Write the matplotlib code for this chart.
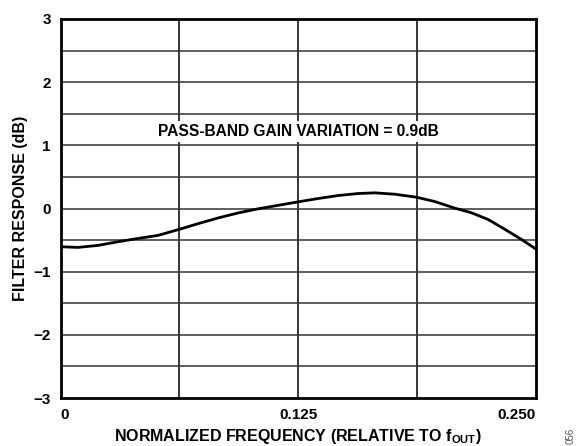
import matplotlib
matplotlib.use('Agg')
import matplotlib.pyplot as plt
import numpy as np

plt.rcParams['font.family'] = ['Liberation Sans', 'DejaVu Sans']
plt.rcParams['font.weight'] = 'bold'
plt.rcParams['mathtext.fontset'] = 'custom'
plt.rcParams['mathtext.rm'] = 'Liberation Sans'
plt.rcParams['mathtext.bf'] = 'Liberation Sans:bold'

# filter response vs normalized frequency
freq = [0.0, 0.0092, 0.0198, 0.0303, 0.0408, 0.0513, 0.0625, 0.0724, 0.0829,
        0.0935, 0.1040, 0.1145, 0.125, 0.1356, 0.1461, 0.1566, 0.1654, 0.1760,
        0.1875, 0.1970, 0.2076, 0.2163, 0.2251, 0.2339, 0.2426, 0.25]
resp_db = [-0.605, -0.616, -0.584, -0.526, -0.474, -0.426, -0.33, -0.24, -0.15,
           -0.07, -0.005, 0.05, 0.105, 0.158, 0.205, 0.237, 0.248, 0.226,
           0.178, 0.11, 0.005, -0.068, -0.174, -0.33, -0.49, -0.637]

xticks = [0, 0.125, 0.25]
xticklabels = ['0', '0.125', '0.250']
yticks = [-3, -2, -1, 0, 1, 2, 3]
yticklabels = ['\u22123', '\u22122', '\u22121', '0', '1', '2', '3']

fig = plt.figure(figsize=(5.81, 4.46), dpi=100)
ax = fig.add_axes([60.5 / 581, 48 / 446, 475 / 581, 379 / 446])

# grid lines
for gx in np.arange(0.0625, 0.25, 0.0625):
    ax.axvline(gx, color='black', lw=1.1, zorder=1)
for gy in np.arange(-2.5, 3, 0.5):
    ax.axhline(gy, color='#333333', lw=1.1, zorder=1)

ax.plot(freq, resp_db, color='black', lw=2.0, zorder=3)

ax.set_xlim(0, 0.25)
ax.set_ylim(-3, 3)
ax.set_xticks(xticks)
ax.set_xticklabels(xticklabels, fontsize=11, fontweight='bold')
ax.set_yticks(yticks)
ax.set_yticklabels(yticklabels, fontsize=11, fontweight='bold')
ax.tick_params(axis='y', length=0, pad=7)
ax.tick_params(axis='x', length=0, pad=7)
ax.get_xticklabels()[0].set_ha('left')
ax.get_xticklabels()[-1].set_ha('right')

for s in ax.spines.values():
    s.set_linewidth(2)

ax.set_ylabel('FILTER RESPONSE (dB)', fontsize=11.5, fontweight='bold', labelpad=4)
ax.set_xlabel(r'NORMALIZED FREQUENCY (RELATIVE TO f$_{\mathbf{OUT}}$)',
              fontsize=11.5, fontweight='bold', labelpad=4)

ax.text(0.125, 1.22, 'PASS-BAND GAIN VARIATION = 0.9dB', ha='center', va='center',
        fontsize=11.2, fontweight='bold', zorder=4,
        bbox=dict(facecolor='white', edgecolor='none', pad=2))

fig.text(571 / 581, 2 / 446, '056', rotation=90, fontsize=7,
         fontweight='normal', color='#555555', ha='center', va='bottom')

fig.savefig('out.png', dpi=100)
